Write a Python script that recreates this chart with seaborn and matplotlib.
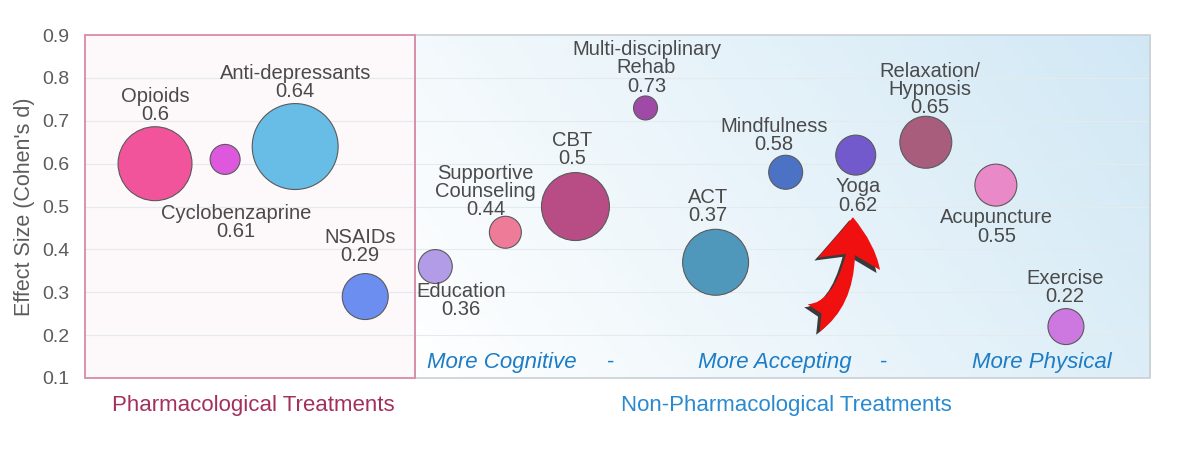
import numpy as np
import pandas as pd
import matplotlib
matplotlib.use("Agg")
import matplotlib.pyplot as plt
import seaborn as sns
from matplotlib.patches import Rectangle, FancyArrowPatch
from matplotlib.path import Path

# Data
treatments = ["Opioids", "Cyclobenzaprine", "Anti-depressants", "NSAIDs",
              "Education", "Supportive\nCounseling", "CBT",
              "Multi-disciplinary\nRehab", "ACT", "Mindfulness", "Yoga",
              "Relaxation/\nHypnosis", "Acupuncture", "Exercise"]
effect = [0.60, 0.61, 0.64, 0.29, 0.36, 0.44, 0.50, 0.73, 0.37, 0.58, 0.62,
          0.65, 0.55, 0.22]
# relative bubble weight (area)
weight = [1369, 225, 1849, 529, 289, 256, 1156, 144, 1089, 289, 400, 676,
          441, 324]
colors = ["#f2549c", "#de58de", "#67bde6", "#6b8ef0", "#b29ce8", "#ee7b98",
          "#b84d86", "#a04aa8", "#4f98bb", "#4b72c4", "#7259cc", "#a85d7d",
          "#ea89c8", "#cc78e0"]
# label offsets in pixels (dx, dy) from the bubble centre
label_off = [(0, 58), (11, -63), (0, 64), (-5, 50), (26, -34), (-20, 41),
             (-3, 57), (1, 40), (-8, 56), (-12, 37), (2, -41), (4, 53),
             (1, -42), (-1, 39)]
groups = ["More Cognitive", "More Accepting", "More Physical"]

df = pd.DataFrame({"treatment": treatments, "effect": effect,
                   "weight": weight, "pos": np.arange(1, len(treatments) + 1)})

sns.set_style("white")
plt.rcParams["font.family"] = ["Liberation Sans", "DejaVu Sans"]

fig = plt.figure(figsize=(11.8, 4.5), dpi=100)
ax = fig.add_axes([0.072, 0.16, 0.9026, 0.762])

xmax = 15.2
split = 4.71

# backgrounds
gx = np.linspace(0, 1, 200)
gy = np.linspace(0, 1, 50)
GX, GY = np.meshgrid(gx, gy)
t = np.clip(0.75 * GX + 0.25 * GY, 0, 1)
white = np.array([1.0, 1.0, 1.0])
blue = np.array([0.82, 0.91, 0.96])
img = white[None, None, :] * (1 - t[..., None]) + blue[None, None, :] * t[..., None]
ax.imshow(img, extent=(split, xmax, 0.1, 0.9), origin="lower",
          aspect="auto", zorder=0.4)
ax.add_patch(Rectangle((split, 0.1), xmax - split, 0.8, facecolor="none",
                       edgecolor="#c9d0d4", lw=1.2, zorder=0.7, clip_on=False))
ax.add_patch(Rectangle((0, 0.1), split, 0.8, facecolor="#fdf8fa",
                       edgecolor="none", zorder=0.5))
ax.add_patch(Rectangle((0, 0.1), split, 0.8, facecolor="none",
                       edgecolor="#d98aa8", lw=1.3, zorder=0.8, clip_on=False))
ax.set_xlim(0, xmax)
ax.set_ylim(0.1, 0.9)

for yv in np.arange(0.2, 0.9, 0.1):
    ax.axhline(yv, color="#e4ebee", lw=0.8, zorder=0.6)

sns.scatterplot(data=df, x="pos", y="effect", hue="treatment",
                palette=colors, size="weight", sizes=(298, 3827),
                edgecolor="#5a5a5a", linewidth=0.8, legend=False,
                zorder=3, ax=ax)

for name, val, px, py, (dx, dy) in zip(treatments, effect, df["pos"],
                                       effect, label_off):
    ax.annotate(f"{name}\n{val:g}", (px, py), xytext=(dx, dy),
                textcoords="offset pixels", ha="center", va="center",
                fontsize=14.5, color="#4a4a4a", linespacing=0.95, zorder=4)

# group labels in the non-pharmacological panel
for gxp, g in zip([5.95, 9.85, 13.65], groups):
    ax.text(gxp, 0.137, g, ha="center", va="center", fontsize=16,
            style="italic", color="#1c7cc6", zorder=4)
for gxp in [7.5, 11.4]:
    ax.text(gxp, 0.137, "-", ha="center", va="center", fontsize=16,
            color="#1c7cc6", zorder=4)

# red curved arrow pointing at Yoga (quadratic bezier: tail, bend, tip)
arrow_pts = [(10.4, 0.24), (10.96, 0.28), (10.96, 0.475)]
for (ox, oy), col, z in [((-0.05, -0.007), "#1a1a1a", 4.5),
                         ((0, 0), "#f01010", 5)]:
    pts = [(px + ox, py + oy) for px, py in arrow_pts]
    arr = FancyArrowPatch(path=Path(pts, [Path.MOVETO, Path.CURVE3, Path.CURVE3]),
                          arrowstyle="fancy,head_length=0.7,head_width=0.95,tail_width=0.45",
                          mutation_scale=48, color=col, lw=0, zorder=z,
                          alpha=0.85 if z < 5 else 1,
                          transform=ax.transData)
    ax.add_patch(arr)

ax.set_yticks(np.arange(0.1, 0.91, 0.1))
ax.set_yticklabels([f"{v:.1f}" for v in np.arange(0.1, 0.91, 0.1)])
ax.set_xticks([])
ax.tick_params(axis="y", length=0, labelsize=14, labelcolor="#5c5c5c", pad=11)
ax.set_ylabel("Effect Size (Cohen's d)", fontsize=15.5, color="#5c5c5c",
              labelpad=5)
ax.set_xlabel("")
for sp in ax.spines.values():
    sp.set_visible(False)

fig.text(253 / 1180, 1 - 406 / 450, "Pharmacological Treatments",
         ha="center", va="center", fontsize=16, color="#a3305c")
fig.text(786 / 1180, 1 - 406 / 450, "Non-Pharmacological Treatments",
         ha="center", va="center", fontsize=16, color="#2a8ad0")

fig.savefig("out.png", dpi=100)
